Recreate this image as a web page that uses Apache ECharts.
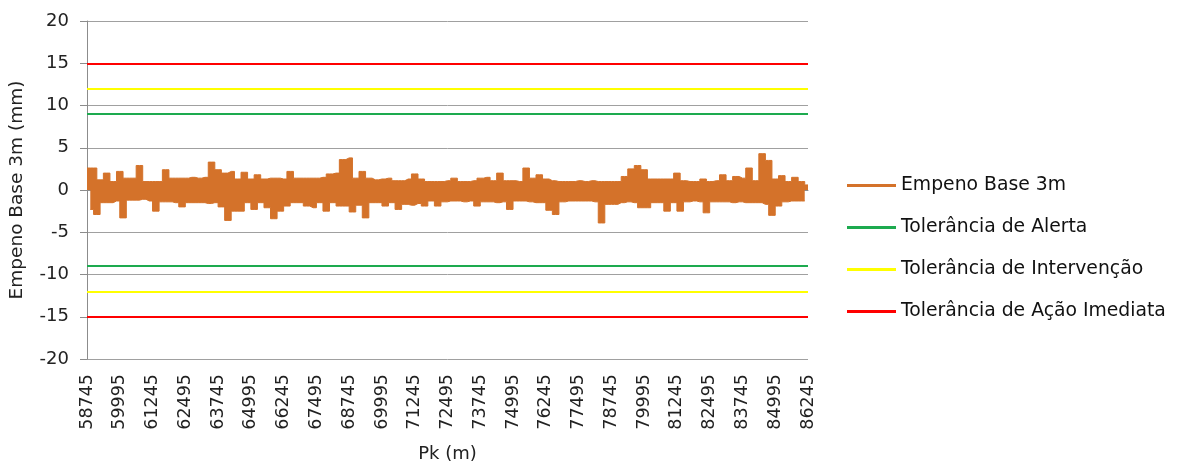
<!DOCTYPE html>
<html>
<head>
<meta charset="utf-8">
<script src="https://cdn.jsdelivr.net/npm/echarts@6/dist/echarts.min.js"></script>
<style>
  html, body { margin: 0; padding: 0; background: #fff; }
  #main { width: 1177px; height: 468px; }
</style>
</head>
<body>
<div id="main"></div>
<script>
// Pk das marcas do eixo x (m)
var pkTicks = [58745, 59995, 61245, 62495, 63745, 64995, 66245, 67495, 68745, 69995, 71245, 72495,
    73745, 74995, 76245, 77495, 78745, 79995, 81245, 82495, 83745, 84995, 86245];
var passo = 250; // m entre pontos de cada envoltória

// empeno base 3m (mm): máximos (a partir do Pk inicial)
var empenoMax = [
    2.6, 2.6, 1.2, 2.0, 1.0, 2.2, 1.4, 1.4, 2.9, 1.0,
    1.0, 1.0, 2.4, 1.4, 1.4, 1.4, 1.5, 1.4, 1.5, 3.3,
    2.4, 2.0, 2.2, 1.3, 2.1, 1.3, 1.8, 1.3, 1.4, 1.4,
    1.3, 2.2, 1.4, 1.4, 1.4, 1.4, 1.5, 1.9, 2.0, 3.6,
    3.8, 1.4, 2.2, 1.4, 1.2, 1.3, 1.4, 1.1, 1.1, 1.3,
    1.9, 1.3, 1.0, 1.0, 1.0, 1.1, 1.4, 1.0, 1.0, 1.1,
    1.4, 1.5, 1.1, 2.0, 1.1, 1.1, 1.0, 2.6, 1.4, 1.8,
    1.3, 1.1, 1.0, 1.0, 1.0, 1.1, 1.0, 1.1, 1.0, 1.0,
    1.0, 1.0, 1.6, 2.5, 2.9, 2.4, 1.3, 1.3, 1.3, 1.3,
    2.0, 1.1, 1.0, 1.0, 1.3, 1.0, 1.1, 1.8, 1.1, 1.6,
    1.4, 2.6, 1.1, 4.3, 3.5, 1.3, 1.7, 1.0, 1.5, 1.0,
    0.6
];
// mínimos (desfasados meio passo)
var empenoMin = [
    -2.3, -2.9, -1.5, -1.5, -1.3, -3.3, -1.2, -1.2, -1.1, -1.3,
    -2.5, -1.4, -1.4, -1.5, -2.0, -1.5, -1.5, -1.5, -1.6, -1.5,
    -2.0, -3.6, -2.5, -2.5, -1.5, -2.3, -1.5, -2.1, -3.4, -2.5,
    -1.9, -1.5, -1.5, -1.9, -2.1, -1.5, -2.5, -1.5, -1.9, -1.9,
    -2.6, -1.8, -3.3, -1.5, -1.5, -1.9, -1.5, -2.3, -1.7, -1.8,
    -1.6, -1.9, -1.3, -1.9, -1.4, -1.3, -1.3, -1.4, -1.3, -1.9,
    -1.4, -1.4, -1.5, -1.4, -2.3, -1.3, -1.3, -1.4, -1.5, -1.5,
    -2.4, -2.9, -1.4, -1.3, -1.3, -1.3, -1.3, -1.4, -3.9, -1.7,
    -1.7, -1.5, -1.4, -1.5, -2.1, -2.1, -1.5, -1.5, -2.5, -1.5,
    -2.5, -1.4, -1.3, -1.4, -2.7, -1.4, -1.4, -1.4, -1.5, -1.4,
    -1.5, -1.5, -1.5, -1.7, -3.0, -1.9, -1.4, -1.3, -1.3, -1.3
];

// tolerâncias (mm)
var tolAlerta = [9, -9];
var tolIntervencao = [12, -12];
var tolAcaoImediata = [15, -15];

var pk0 = pkTicks[0];
var pkSpan = pkTicks[pkTicks.length - 1] - pk0;
var pkInterval = pkTicks[1] - pkTicks[0];
var corEmpeno = '#D4722A';

var myChart = echarts.init(document.getElementById('main'));

function tolSeries(nome, cor, valores) {
    return {
        name: nome,
        type: 'line',
        color: cor,
        data: [],
        markLine: {
            silent: true,
            symbol: ['none', 'none'],
            label: { show: false },
            lineStyle: { color: cor, width: 2, type: 'solid' },
            data: valores.map(function (v) { return { yAxis: v }; })
        }
    };
}

// envoltória do sinal: degraus preenchidos até ao zero
function envSeries(valores, desvio) {
    return {
        name: 'Empeno Base 3m',
        type: 'line',
        color: corEmpeno,
        step: 'middle',
        showSymbol: false,
        symbol: 'none',
        lineStyle: { width: 1 },
        areaStyle: { color: corEmpeno, opacity: 1, origin: 0 },
        data: valores.map(function (v, i) { return [desvio + i * passo, v]; })
    };
}

var option = {
    animation: false,
    backgroundColor: '#ffffff',
    grid: {
        left: 87,
        right: 369,
        top: 21,
        bottom: 106
    },
    legend: {
        orient: 'vertical',
        left: 842,
        top: 171,
        itemWidth: 49,
        itemHeight: 3,
        itemGap: 23,
        icon: 'rect',
        textStyle: {
            fontFamily: 'DejaVu Sans',
            fontSize: 18.8,
            color: '#111'
        },
        data: ['Empeno Base 3m', 'Tolerância de Alerta', 'Tolerância de Intervenção', 'Tolerância de Ação Imediata']
    },
    xAxis: {
        type: 'value',
        min: 0,
        max: pkSpan,
        interval: pkInterval,
        name: 'Pk (m)',
        nameLocation: 'middle',
        nameGap: 86,
        nameTextStyle: {
            fontFamily: 'DejaVu Sans',
            fontSize: 18,
            color: '#222'
        },
        axisLine: { lineStyle: { color: '#8c8c8c', width: 1 } },
        axisTick: { show: false },
        splitLine: { show: false },
        axisLabel: {
            rotate: 90,
            margin: 15,
            fontFamily: 'DejaVu Sans',
            fontSize: 17.5,
            color: '#222',
            formatter: function (v) {
                return String(pk0 + v);
            }
        }
    },
    yAxis: {
        type: 'value',
        min: -20,
        max: 20,
        interval: 5,
        name: 'Empeno Base 3m (mm)',
        nameLocation: 'middle',
        nameRotate: 90,
        nameGap: 60,
        nameTextStyle: {
            fontFamily: 'DejaVu Sans',
            fontSize: 18.5,
            color: '#222'
        },
        axisLine: { show: true, lineStyle: { color: '#8c8c8c', width: 1 } },
        axisTick: { show: true, inside: false, length: 7, lineStyle: { color: '#8c8c8c' } },
        splitLine: { show: true, lineStyle: { color: '#a0a0a0', width: 1 } },
        axisLabel: {
            margin: 18,
            fontFamily: 'DejaVu Sans',
            fontSize: 18,
            color: '#222'
        }
    },
    series: [
        envSeries(empenoMax, 0),
        envSeries(empenoMin, passo / 2),
        tolSeries('Tolerância de Alerta', '#1DAA4F', tolAlerta),
        tolSeries('Tolerância de Intervenção', '#FFFF00', tolIntervencao),
        tolSeries('Tolerância de Ação Imediata', '#FF0000', tolAcaoImediata)
    ]
};

myChart.setOption(option);
</script>
</body>
</html>
